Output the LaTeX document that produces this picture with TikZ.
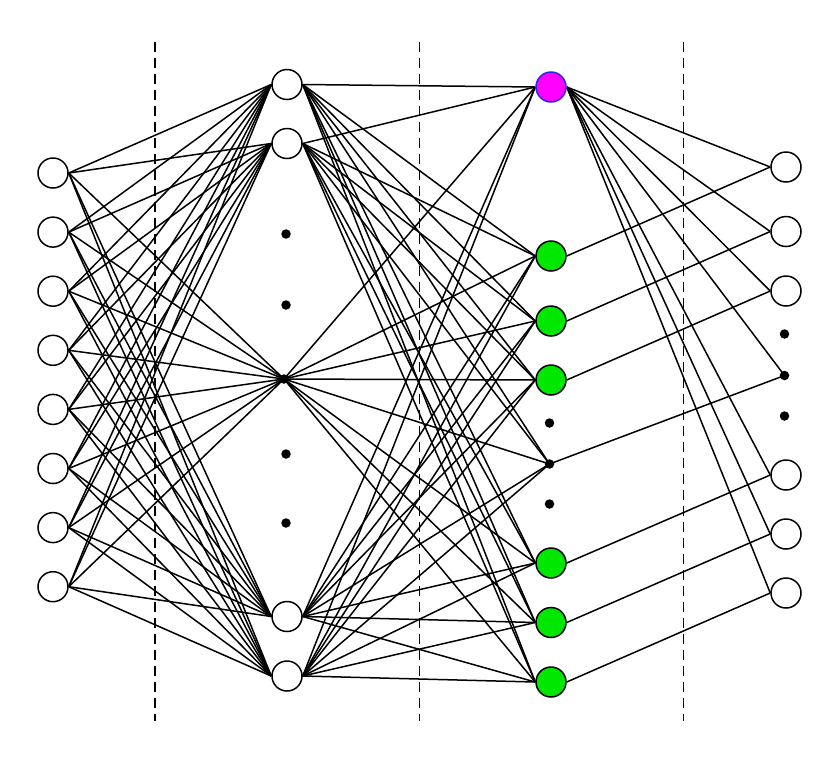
\documentclass[tikz,border=0pt]{standalone}
\pgfdeclarelayer{edgelayer}
\pgfsetlayers{edgelayer,main}
\definecolor{nngreen}{RGB}{0,232,0}
\definecolor{nnmagenta}{RGB}{255,0,255}
\definecolor{nnblue}{RGB}{40,40,230}
\begin{document}
\begin{tikzpicture}[x=1pt,y=-1pt,
  neuron/.style={circle,draw=black,fill=white,line width=1.5pt,minimum size=30pt,inner sep=0pt},
  greenneuron/.style={neuron,fill=nngreen},
  magneuron/.style={neuron,fill=nnmagenta,draw=nnblue},
  hub/.style={circle,fill=black,minimum size=9.5pt,inner sep=0pt},
  ellip/.style={circle,fill=black,minimum size=9.5pt,inner sep=0pt},
  link/.style={line width=1.5pt,black},
  separator/.style={line width=1.4pt,black,dash pattern=on 10pt off 6pt}]
\useasboundingbox (0,0) rectangle (840,761);
\begin{pgfonlayer}{edgelayer}
\fill[white] (0,0) rectangle (840,761);
\end{pgfonlayer}
% input layer
\foreach \k in {1,...,8} {
  \node[neuron] (i\k) at (53,{173+(\k-1)*59.1}) {};
}
% hidden layer
\node[neuron] (h1) at (287,84.5) {};
\node[neuron] (h2) at (287,143.5) {};
\node[hub] (h3) at (284,379) {};
\node[neuron] (h4) at (287,616.5) {};
\node[neuron] (h5) at (287,676) {};
\node[ellip] (hd1) at (286,234) {};
\node[ellip] (hd2) at (286,305) {};
\node[ellip] (hd3) at (286,454) {};
\node[ellip] (hd4) at (286,523) {};
% third layer
\node[magneuron] (m) at (551,87) {};
\node[greenneuron] (g1) at (551,256) {};
\node[greenneuron] (g2) at (551,321) {};
\node[greenneuron] (g3) at (551,380) {};
\node[ellip] (gd1) at (549.5,423) {};
\node[hub] (g4) at (549.5,464) {};
\node[ellip] (gd2) at (549.5,504) {};
\node[greenneuron] (g5) at (551,563) {};
\node[greenneuron] (g6) at (551,622.5) {};
\node[greenneuron] (g7) at (551,682) {};
% output layer
\node[neuron] (o1) at (786,167) {};
\node[neuron] (o2) at (786,231.5) {};
\node[neuron] (o3) at (786,291) {};
\node[ellip] (od1) at (784.5,334) {};
\node[hub] (o4) at (784.5,375.5) {};
\node[ellip] (od2) at (784.5,416) {};
\node[neuron] (o5) at (786,475) {};
\node[neuron] (o6) at (786,534) {};
\node[neuron] (o7) at (786,593) {};
\begin{pgfonlayer}{edgelayer}
% separators
\foreach \x in {155,419.5,683.5} {
  \draw[separator] (\x,42) -- (\x,721);
}
% input -> hidden
\foreach \k in {1,...,8} {
  \foreach \h in {h1,h2,h4,h5} {
    \draw[link] (i\k.east) -- (\h.west);
  }
  \draw[link] (i\k.east) -- (h3.center);
}
% hidden -> third
\foreach \h in {h1,h2,h4,h5} {
  \foreach \g in {m,g1,g2,g3,g5,g6,g7} {
    \draw[link] (\h.east) -- (\g.west);
  }
  \draw[link] (\h.east) -- (g4.center);
}
\foreach \g in {m,g1,g2,g3,g5,g6,g7} {
  \draw[link] (h3.center) -- (\g.west);
}
\draw[link] (h3.center) -- (g4.center);
% third -> output
\foreach \o in {o1,o2,o3,o5,o6,o7} {
  \draw[link] (m.east) -- (\o.west);
}
\draw[link] (m.east) -- (o4.center);
\foreach \g/\o in {g1/o1,g2/o2,g3/o3,g5/o5,g6/o6,g7/o7} {
  \draw[link] (\g.east) -- (\o.west);
}
\draw[link] (g4.center) -- (o4.center);
\end{pgfonlayer}
\end{tikzpicture}
\end{document}
